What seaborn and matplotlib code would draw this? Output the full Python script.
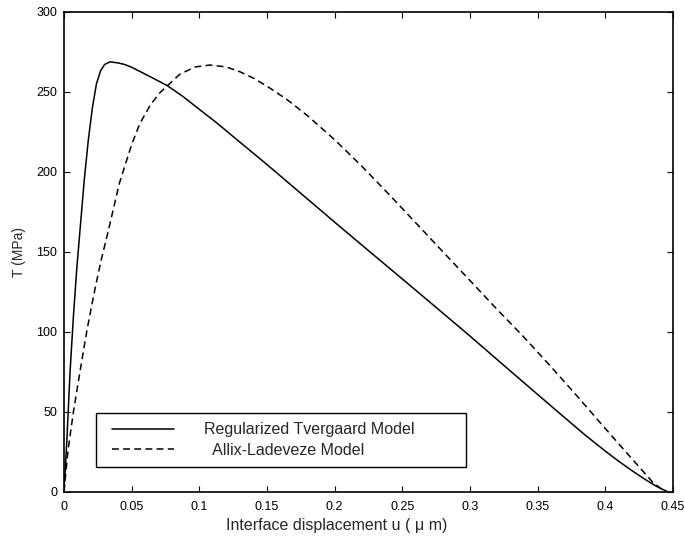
import numpy as np
import pandas as pd
import seaborn as sns
import matplotlib
matplotlib.use("Agg")
import matplotlib.pyplot as plt
from matplotlib.lines import Line2D
from matplotlib.legend_handler import HandlerLine2D

# Regularized Tvergaard model
u_tvergaard = [0.0, 0.002, 0.0045, 0.007, 0.0095, 0.012, 0.015, 0.018, 0.021,
               0.024, 0.027, 0.030, 0.034, 0.040, 0.045, 0.050, 0.060, 0.076,
               0.088, 0.100, 0.1125, 0.125, 0.150, 0.175, 0.200, 0.225, 0.250,
               0.275, 0.300, 0.325, 0.350, 0.370, 0.385, 0.400, 0.410, 0.420,
               0.430, 0.438, 0.446]
T_tvergaard = [0.0, 30, 75, 110, 140, 165, 195, 220, 240,
               255, 263, 267, 268.7, 268, 267, 265.3, 261, 254,
               247, 239, 230.8, 222, 204.5, 186.5, 168.5, 150.7, 133,
               115.2, 97.3, 79, 60.8, 46.3, 35.5, 25.4, 19.0, 13.0,
               7.4, 3.3, 0.0]

# Allix-Ladeveze model
u_allix = [0.0, 0.003, 0.007, 0.012, 0.017, 0.022, 0.027, 0.033, 0.041, 0.050,
           0.056, 0.064, 0.071, 0.0857, 0.097, 0.108, 0.120, 0.130, 0.140,
           0.150, 0.165, 0.180, 0.200, 0.220, 0.240, 0.260, 0.280, 0.300,
           0.320, 0.340, 0.360, 0.380, 0.400, 0.420, 0.435, 0.444]
T_allix = [0.0, 26, 50, 76, 101, 123, 143, 164, 193, 217,
           230, 242, 249.5, 261, 265.5, 266.7, 265.5, 262.5, 258.5,
           253.5, 245, 235, 220, 203.5, 186, 168, 150, 132,
           114, 96.5, 78, 59, 39.5, 20.3, 6.0, 0.0]

labels = ["Regularized Tvergaard Model", "  Allix-Ladeveze Model"]
xticks = [0, 0.05, 0.1, 0.15, 0.2, 0.25, 0.3, 0.35, 0.4, 0.45]
xticklabels = ["0", "0.05", "0.1", "0.15", "0.2", "0.25", "0.3", "0.35", "0.4", "0.45"]
yticks = [0, 50, 100, 150, 200, 250, 300]

df_t = pd.DataFrame({"u": u_tvergaard, "T": T_tvergaard})
df_a = pd.DataFrame({"u": u_allix, "T": T_allix})

sns.set_theme(style="ticks")
plt.rcParams['font.family'] = ['Liberation Sans', 'DejaVu Sans']

dash = (0, (4.5, 2.8))

fig = plt.figure(figsize=(6.85, 5.36), dpi=100)
ax = fig.add_axes([0.0934, 0.0826, 0.889, 0.8955])

sns.lineplot(data=df_t, x="u", y="T", ax=ax, color="black", linewidth=1.1,
             sort=False, estimator=None)
sns.lineplot(data=df_a, x="u", y="T", ax=ax, color="black", linewidth=1.1,
             linestyle=dash, sort=False, estimator=None)

ax.set_xlim(0, 0.45)
ax.set_ylim(0, 300)
ax.set_xticks(xticks)
ax.set_xticklabels(xticklabels)
ax.set_yticks(yticks)
ax.tick_params(direction="in", length=4, width=0.8, top=True, right=True,
               labelsize=9, colors="black", pad=5)
ax.tick_params(axis="x", pad=6.5)

for s in ax.spines.values():
    s.set_linewidth(1.2)
    s.set_color("black")
    s.set_visible(True)

ax.set_xlabel("Interface displacement u ( μ m)", fontsize=11.5)
ax.set_ylabel("T (MPa)", fontsize=10)
ax.xaxis.set_label_coords(0.448, -0.055)
ax.yaxis.set_label_coords(-0.062, 0.5)

handles = [Line2D([], [], color="black", linewidth=1.1),
           Line2D([], [], color="black", linewidth=1.1, linestyle=dash)]
leg = ax.legend(handles, labels, loc="lower left",
                bbox_to_anchor=(0.053, 0.052, 0.607, 0.11), mode="expand",
                borderaxespad=0, fancybox=False, edgecolor="black", framealpha=1,
                fontsize=11.5, handlelength=4.32, handletextpad=1.875,
                borderpad=0.575, labelspacing=0.34,
                handler_map={Line2D: HandlerLine2D(xpad=0.38)})
leg.get_frame().set_linewidth(1.0)

plt.savefig("out.png", dpi=100, facecolor="white")
